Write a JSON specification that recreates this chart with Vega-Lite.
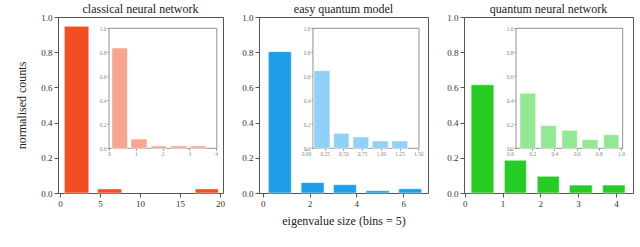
{
  "$schema": "https://vega.github.io/schema/vega-lite/v6.json",
  "padding": {"left": 15, "top": 2, "right": 5, "bottom": 5},
  "spacing": 36,
  "bounds": "flush",
  "datasets": {
    "main1": [
      {"lo": 0.54, "hi": 3.6, "v": 0.947},
      {"lo": 4.7, "hi": 7.7, "v": 0.023},
      {"lo": 16.9, "hi": 19.8, "v": 0.023}
    ],
    "inset1": [
      {"lo": 0.11, "hi": 0.69, "v": 0.836},
      {"lo": 0.82, "hi": 1.42, "v": 0.077},
      {"lo": 1.57, "hi": 2.15, "v": 0.02},
      {"lo": 2.32, "hi": 2.9, "v": 0.02},
      {"lo": 3.04, "hi": 3.63, "v": 0.02}
    ],
    "main2": [
      {"lo": 0.24, "hi": 1.22, "v": 0.803},
      {"lo": 1.64, "hi": 2.62, "v": 0.059},
      {"lo": 3.02, "hi": 4.0, "v": 0.047},
      {"lo": 4.41, "hi": 5.4, "v": 0.013},
      {"lo": 5.81, "hi": 6.79, "v": 0.024}
    ],
    "inset2": [
      {"lo": 0.107, "hi": 0.32, "v": 0.647},
      {"lo": 0.37, "hi": 0.574, "v": 0.125},
      {"lo": 0.628, "hi": 0.837, "v": 0.094},
      {"lo": 0.885, "hi": 1.099, "v": 0.061},
      {"lo": 1.148, "hi": 1.358, "v": 0.061}
    ],
    "main3": [
      {"lo": 0.17, "hi": 0.77, "v": 0.615},
      {"lo": 1.05, "hi": 1.63, "v": 0.186},
      {"lo": 1.92, "hi": 2.5, "v": 0.095},
      {"lo": 2.77, "hi": 3.37, "v": 0.045},
      {"lo": 3.65, "hi": 4.24, "v": 0.045}
    ],
    "inset3": [
      {"lo": 0.09, "hi": 0.231, "v": 0.458},
      {"lo": 0.277, "hi": 0.417, "v": 0.19},
      {"lo": 0.468, "hi": 0.606, "v": 0.15},
      {"lo": 0.65, "hi": 0.792, "v": 0.072},
      {"lo": 0.843, "hi": 0.98, "v": 0.113}
    ]
  },
  "hconcat": [
    {
      "width": 165, "height": 176,
      "title": "classical neural network",
      "layer": [
        {
          "data": {"name": "main1"},
          "mark": {"type": "rect", "color": "#F24E22", "stroke": "white", "strokeWidth": 0.5},
          "encoding": {
            "x": {"field": "lo", "type": "quantitative", "scale": {"domain": [-0.25, 20.375], "nice": false, "zero": false},
                  "axis": {"values": [0, 5, 10, 15, 20], "format": "d", "title": null}},
            "x2": {"field": "hi"},
            "y": {"field": "v", "type": "quantitative", "scale": {"domain": [0, 1], "nice": false},
                  "axis": {"values": [0, 0.2, 0.4, 0.6, 0.8, 1.0], "format": ".1f", "title": "normalised counts", "titlePadding": 12}},
            "y2": {"datum": 0}
          }
        },
        {
          "layer": [
            {
              "data": {"values": [{}]},
              "mark": {"type": "rect", "fill": "white", "stroke": "#777", "strokeWidth": 0.8},
              "encoding": {
                "x": {"datum": 0, "type": "quantitative", "scale": {"domain": [0, 4], "range": [51, 158], "nice": false, "zero": false},
                      "axis": {"orient": "bottom", "offset": -44.7, "values": [0, 1, 2, 3, 4], "format": "d", "title": null, "domain": false, "labelFontSize": 5.5, "labelColor": "#888", "tickSize": 2, "tickColor": "#999", "labelPadding": 1, "labelOverlap": false, "labelSeparation": 0}},
                "x2": {"datum": 4.03},
                "y": {"datum": 0, "type": "quantitative", "scale": {"domain": [0, 1], "range": [131.3, 11.3], "nice": false},
                      "axis": {"orient": "left", "offset": -51, "values": [0, 0.2, 0.4, 0.6, 0.8, 1.0], "format": ".1f", "title": null, "domain": false, "labelFontSize": 5.5, "labelColor": "#888", "tickSize": 2, "tickColor": "#999", "labelPadding": 1, "labelOverlap": false, "labelSeparation": 0}},
                "y2": {"datum": 1}
              }
            },
            {
              "data": {"name": "inset1"},
              "mark": {"type": "rect", "color": "#F8A68F", "stroke": "white", "strokeWidth": 0.5},
              "encoding": {
                "x": {"field": "lo", "type": "quantitative",
                      "axis": {"orient": "bottom", "offset": -44.7, "values": [0, 1, 2, 3, 4], "format": "d", "title": null, "domain": false, "labelFontSize": 5.5, "labelColor": "#888", "tickSize": 2, "tickColor": "#999", "labelPadding": 1, "labelOverlap": false, "labelSeparation": 0}},
                "x2": {"field": "hi"},
                "y": {"field": "v", "type": "quantitative",
                      "axis": {"orient": "left", "offset": -51, "values": [0, 0.2, 0.4, 0.6, 0.8, 1.0], "format": ".1f", "title": null, "domain": false, "labelFontSize": 5.5, "labelColor": "#888", "tickSize": 2, "tickColor": "#999", "labelPadding": 1, "labelOverlap": false, "labelSeparation": 0}},
                "y2": {"datum": 0}
              }
            }
          ]
        }
      ],
      "resolve": {"scale": {"x": "independent", "y": "independent"}, "axis": {"x": "independent", "y": "independent"}}
    },
    {
      "width": 169, "height": 176,
      "title": "easy quantum model",
      "layer": [
        {
          "data": {"name": "main2"},
          "mark": {"type": "rect", "color": "#1E9DEA", "stroke": "white", "strokeWidth": 0.5},
          "encoding": {
            "x": {"field": "lo", "type": "quantitative", "scale": {"domain": [-0.16, 7.06], "nice": false, "zero": false},
                  "axis": {"values": [0, 2, 4, 6], "format": "d", "title": "eigenvalue size (bins = 5)", "titlePadding": 7}},
            "x2": {"field": "hi"},
            "y": {"field": "v", "type": "quantitative", "scale": {"domain": [0, 1], "nice": false},
                  "axis": {"values": [0, 0.2, 0.4, 0.6, 0.8, 1.0], "format": ".1f", "title": null}},
            "y2": {"datum": 0}
          }
        },
        {
          "layer": [
            {
              "data": {"values": [{}]},
              "mark": {"type": "rect", "fill": "white", "stroke": "#777", "strokeWidth": 0.8},
              "encoding": {
                "x": {"datum": 0.093, "type": "quantitative", "scale": {"domain": [0, 1.5], "range": [47, 159.3], "nice": false, "zero": false},
                      "axis": {"orient": "bottom", "offset": -44.7, "values": [0, 0.25, 0.5, 0.75, 1.0, 1.25, 1.5], "format": ".2f", "title": null, "domain": false, "labelFontSize": 5.5, "labelColor": "#888", "tickSize": 2, "tickColor": "#999", "labelPadding": 1, "labelOverlap": false, "labelSeparation": 0}},
                "x2": {"datum": 1.509},
                "y": {"datum": 0, "type": "quantitative", "scale": {"domain": [0, 1], "range": [131.3, 11.3], "nice": false},
                      "axis": {"orient": "left", "offset": -54, "values": [0, 0.2, 0.4, 0.6, 0.8, 1.0], "format": ".1f", "title": null, "domain": false, "labelFontSize": 5.5, "labelColor": "#888", "tickSize": 2, "tickColor": "#999", "labelPadding": 1, "labelOverlap": false, "labelSeparation": 0}},
                "y2": {"datum": 1}
              }
            },
            {
              "data": {"name": "inset2"},
              "mark": {"type": "rect", "color": "#8FD1F7", "stroke": "white", "strokeWidth": 0.5},
              "encoding": {
                "x": {"field": "lo", "type": "quantitative",
                      "axis": {"orient": "bottom", "offset": -44.7, "values": [0, 0.25, 0.5, 0.75, 1.0, 1.25, 1.5], "format": ".2f", "title": null, "domain": false, "labelFontSize": 5.5, "labelColor": "#888", "tickSize": 2, "tickColor": "#999", "labelPadding": 1, "labelOverlap": false, "labelSeparation": 0}},
                "x2": {"field": "hi"},
                "y": {"field": "v", "type": "quantitative",
                      "axis": {"orient": "left", "offset": -54, "values": [0, 0.2, 0.4, 0.6, 0.8, 1.0], "format": ".1f", "title": null, "domain": false, "labelFontSize": 5.5, "labelColor": "#888", "tickSize": 2, "tickColor": "#999", "labelPadding": 1, "labelOverlap": false, "labelSeparation": 0}},
                "y2": {"datum": 0}
              }
            }
          ]
        }
      ],
      "resolve": {"scale": {"x": "independent", "y": "independent"}, "axis": {"x": "independent", "y": "independent"}}
    },
    {
      "width": 169, "height": 176,
      "title": "quantum neural network",
      "layer": [
        {
          "data": {"name": "main3"},
          "mark": {"type": "rect", "color": "#24CC24", "stroke": "white", "strokeWidth": 0.5},
          "encoding": {
            "x": {"field": "lo", "type": "quantitative", "scale": {"domain": [-0.0185, 4.452], "nice": false, "zero": false},
                  "axis": {"values": [0, 1, 2, 3, 4], "format": "d", "title": null}},
            "x2": {"field": "hi"},
            "y": {"field": "v", "type": "quantitative", "scale": {"domain": [0, 1], "nice": false},
                  "axis": {"values": [0, 0.2, 0.4, 0.6, 0.8, 1.0], "format": ".1f", "title": null}},
            "y2": {"datum": 0}
          }
        },
        {
          "layer": [
            {
              "data": {"values": [{}]},
              "mark": {"type": "rect", "fill": "white", "stroke": "#777", "strokeWidth": 0.8},
              "encoding": {
                "x": {"datum": 0.054, "type": "quantitative", "scale": {"domain": [0, 1], "range": [46, 157], "nice": false, "zero": false},
                      "axis": {"orient": "bottom", "offset": -44.7, "values": [0, 0.2, 0.4, 0.6, 0.8, 1.0], "format": ".1f", "title": null, "domain": false, "labelFontSize": 5.5, "labelColor": "#888", "tickSize": 2, "tickColor": "#999", "labelPadding": 1, "labelOverlap": false, "labelSeparation": 0}},
                "x2": {"datum": 1.015},
                "y": {"datum": 0, "type": "quantitative", "scale": {"domain": [0, 1], "range": [131.3, 11.3], "nice": false},
                      "axis": {"orient": "left", "offset": -52, "values": [0, 0.2, 0.4, 0.6, 0.8, 1.0], "format": ".1f", "title": null, "domain": false, "labelFontSize": 5.5, "labelColor": "#888", "tickSize": 2, "tickColor": "#999", "labelPadding": 1, "labelOverlap": false, "labelSeparation": 0}},
                "y2": {"datum": 1}
              }
            },
            {
              "data": {"name": "inset3"},
              "mark": {"type": "rect", "color": "#93E893", "stroke": "white", "strokeWidth": 0.5},
              "encoding": {
                "x": {"field": "lo", "type": "quantitative",
                      "axis": {"orient": "bottom", "offset": -44.7, "values": [0, 0.2, 0.4, 0.6, 0.8, 1.0], "format": ".1f", "title": null, "domain": false, "labelFontSize": 5.5, "labelColor": "#888", "tickSize": 2, "tickColor": "#999", "labelPadding": 1, "labelOverlap": false, "labelSeparation": 0}},
                "x2": {"field": "hi"},
                "y": {"field": "v", "type": "quantitative",
                      "axis": {"orient": "left", "offset": -52, "values": [0, 0.2, 0.4, 0.6, 0.8, 1.0], "format": ".1f", "title": null, "domain": false, "labelFontSize": 5.5, "labelColor": "#888", "tickSize": 2, "tickColor": "#999", "labelPadding": 1, "labelOverlap": false, "labelSeparation": 0}},
                "y2": {"datum": 0}
              }
            }
          ]
        }
      ],
      "resolve": {"scale": {"x": "independent", "y": "independent"}, "axis": {"x": "independent", "y": "independent"}}
    }
  ],
  "config": {
    "font": "Liberation Serif",
    "view": {"stroke": "#555", "strokeWidth": 1},
    "title": {"font": "Liberation Serif", "fontSize": 12, "fontWeight": "normal", "color": "#222", "offset": -2.5},
    "axis": {
      "grid": false, "domain": false,
      "labelFont": "Liberation Serif", "labelFontSize": 9, "labelColor": "#333",
      "tickSize": 4, "tickColor": "#555", "labelPadding": 2,
      "labelOverlap": false, "labelFlush": false, "labelBound": false,
      "titleFont": "Liberation Serif", "titleFontSize": 12, "titleFontWeight": "normal", "titleColor": "#222"
    }
  }
}
